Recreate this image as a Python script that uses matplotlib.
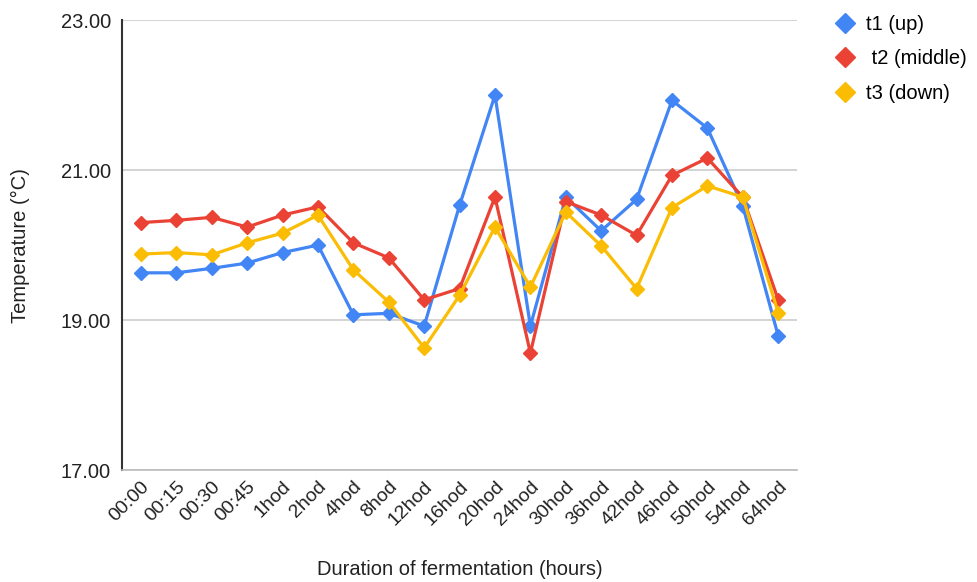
import matplotlib.pyplot as plt

plt.rcParams['font.family'] = ['Liberation Sans', 'DejaVu Sans']

# sampling times and temperatures of the three probes
times = ['00:00', '00:15', '00:30', '00:45', '1hod', '2hod', '4hod', '8hod',
         '12hod', '16hod', '20hod', '24hod', '30hod', '36hod', '42hod',
         '46hod', '50hod', '54hod', '64hod']
t1_up = [19.63, 19.63, 19.69, 19.76, 19.90, 20.00, 19.07, 19.09, 18.92, 20.53,
         22.00, 18.92, 20.64, 20.19, 20.61, 21.93, 21.56, 20.52, 18.79]
t2_middle = [20.30, 20.33, 20.37, 20.24, 20.40, 20.51, 20.03, 19.83, 19.27, 19.42,
             20.64, 18.56, 20.58, 20.40, 20.13, 20.93, 21.16, 20.64, 19.27]
t3_down = [19.88, 19.90, 19.87, 20.03, 20.16, 20.40, 19.67, 19.24, 18.63, 19.33,
           20.24, 19.44, 20.44, 19.99, 19.42, 20.50, 20.79, 20.64, 19.10]

yticks = [17, 19, 21, 23]

fig = plt.figure(figsize=(9.77, 5.82), dpi=100)
ax = fig.add_axes([0.1249, 0.1924, 0.691, 0.773])

x = range(len(times))
series = [(t1_up, 't1 (up)', '#4285F4'),
          (t2_middle, ' t2 (middle)', '#EA4335'),
          (t3_down, 't3 (down)', '#FBBC04')]
for vals, name, col in series:
    ax.plot(x, vals, color=col, lw=2.3, marker='D', ms=7, label=name)

ax.set_xlim(-0.535, 18.535)
ax.set_ylim(17, 23)
ax.set_yticks(yticks)
ax.set_yticklabels(['%.2f' % v for v in yticks], fontsize=14.5, color='#222222')
ax.set_xticks(list(x))
ax.set_xticklabels(times, rotation=45, ha='right', rotation_mode='anchor',
                   fontsize=14, color='#222222')
ax.tick_params(axis='both', length=0, pad=8)
ax.tick_params(axis='x', pad=6)

ax.grid(axis='y', color='#cccccc', lw=1.2)
ax.set_axisbelow(True)
for s in ['top', 'right']:
    ax.spines[s].set_visible(False)
ax.spines['left'].set_color('#333333')
ax.spines['left'].set_linewidth(1.5)
ax.spines['bottom'].set_color('#bbbbbb')
ax.spines['bottom'].set_linewidth(1.2)

ax.set_ylabel('Temperature (°C)', fontsize=14.5, color='#222222', labelpad=22)
ax.set_xlabel('Duration of fermentation (hours)', fontsize=14.5,
              color='#222222', labelpad=22)

leg = fig.legend(*ax.get_legend_handles_labels(), loc='upper left',
                 bbox_to_anchor=(0.836, 1.006), frameon=False, fontsize=14.5,
                 handlelength=1.0, handletextpad=0.55, labelspacing=0.78)
for h in leg.legend_handles:
    h.set_linestyle('none')
    h.set_markersize(10)

fig.savefig('out.png', dpi=100)
